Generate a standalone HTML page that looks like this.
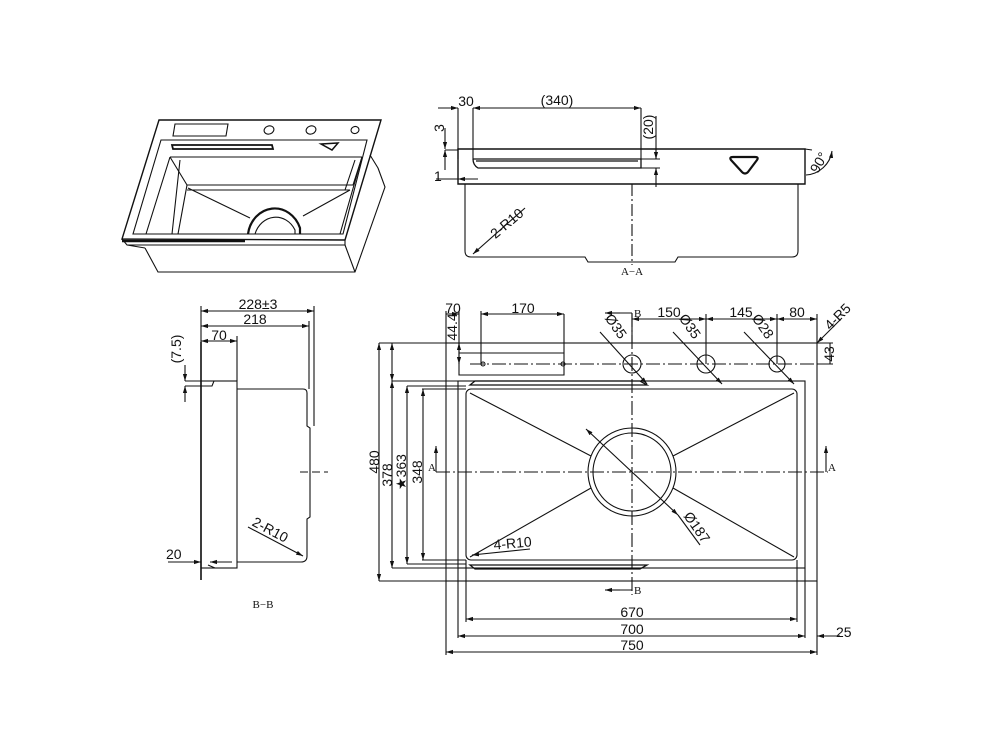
<!DOCTYPE html>
<html><head><meta charset="utf-8"><style>
html,body{margin:0;padding:0;background:#fff;}
svg{display:block;}
text{font-family:"Liberation Sans",sans-serif;font-size:14px;fill:#111;}
.s{font-family:"Liberation Serif",serif;font-size:11px;}
</style></head><body>
<svg width="1000" height="750" viewBox="0 0 1000 750" xmlns="http://www.w3.org/2000/svg">
<defs>
<marker id="a" viewBox="0 0 10 10" refX="10" refY="5" markerWidth="7" markerHeight="7" orient="auto-start-reverse" markerUnits="userSpaceOnUse"><path d="M0,2 L10,5 L0,8 z" fill="#111"/></marker>
</defs>
<g fill="none" stroke="#111" stroke-width="1.1">

<!-- ISOMETRIC -->
<path d="M159,120 L381,120 L345,240 L122,239 Z" stroke-width="1.4"/>
<path d="M161,140 L367,140 L343,234 L133,234 Z"/>
<path d="M122,239 L127,245 L345,245 L345,240"/>
<path d="M170,157 L362,157"/>
<path d="M170,157 L187,185 L353,185 L362,157"/>
<path d="M187,190 L350,190"/>
<path d="M170,157 L146,234 M180,160 L172,234 M187,185 L178,234"/>
<path d="M362,157 L340,234 M355,160 L345,190"/>
<path d="M188,188 L250,218 M350,190 L303,216"/>
<path d="M248,234 A27,30 0 0 1 300,228 L300,234" stroke-width="2.2"/>
<path d="M255,234 A22,25 0 0 1 295,230 L295,234"/>
<path d="M122,241 L245,241" stroke-width="2.5"/>
<path d="M145,248 L158,272 L355,272 L385,187 L378,168 M370,155 L378,168 M345,245 L355,272 M127,245 L145,248"/>
<path d="M175,124 L228,124 L226,136 L173,136 Z"/>
<path d="M172,145 L272,145 L273,149 L173,149 Z" stroke-width="1.8"/>
<ellipse cx="269" cy="130" rx="5" ry="4" transform="rotate(-20 269 130)"/>
<ellipse cx="311" cy="130" rx="5" ry="4" transform="rotate(-20 311 130)"/>
<ellipse cx="355" cy="130" rx="4" ry="3.5" transform="rotate(-20 355 130)"/>
<path d="M321,144 L338,143 L332,150 Z" stroke-width="1.5"/>

<!-- A-A SECTION -->
<path d="M458,149 L805,149 L805,184 L458,184 Z" stroke-width="1.4"/>
<path d="M445,150 L458,150 M805,149 L812,150"/>
<path d="M465,184 L465,251 Q465,257 471,257 L585,257 L588,262 L675,262 L678,257 L792,257 Q798,257 798,251 L798,184"/>
<path d="M473,159 L641,159 L641,168 L478,168 Q473,165 473,159 M476,161 L638,161" stroke-width="1.3"/>
<path d="M731,160 Q729,157 733,157 L755,157 Q759,157 757,160 L748,172 Q745,175 742,172 Z" stroke-width="2.2" stroke-linejoin="round"/>
<path d="M632,184 L632,265" stroke-dasharray="12,3,2,3"/>
<path d="M458,108 L458,159 M473,108 L473,159 M641,108 L641,159"/>
<path d="M438,108 L458,108" marker-end="url(#a)"/>
<path d="M473,108 L641,108" marker-start="url(#a)" marker-end="url(#a)"/>
<path d="M641,159 L660,159 M641,168 L660,168 M656,116 L656,159"/>
<path d="M656,148 L656,159" marker-end="url(#a)"/>
<path d="M656,187 L656,168" marker-end="url(#a)"/>
<path d="M445,128 L445,149" marker-end="url(#a)"/>
<path d="M445,170 L445,150" marker-end="url(#a)"/>
<path d="M436,179 L458,179"/>
<path d="M478,179 L458,179" marker-end="url(#a)"/>
<path d="M525,208 L473,254" marker-end="url(#a)"/>
<path d="M806,175 A28,28 0 0 0 832,151" marker-end="url(#a)"/>

<!-- PLAN VIEW -->
<rect x="446" y="343" width="371" height="238"/>
<rect x="458" y="381" width="347" height="187"/>
<rect x="466" y="389" width="331" height="171" rx="5"/>
<path d="M407,386 L466,386 M407,564 L466,564 M422,389 L466,389 M422,560 L466,560 M379,343 L446,343 M379,581 L446,581 M392,381 L458,381 M392,568 L458,568"/>
<circle cx="632" cy="472" r="44"/>
<circle cx="632" cy="472" r="39"/>
<path d="M470,393 L591,456 M794,393 L673,456 M470,557 L591,488 M794,557 L673,488"/>
<path d="M436,472 L828,472" stroke-dasharray="14,3,2,3"/>
<path d="M632,313 L632,595" stroke-dasharray="14,3,2,3"/>
<path d="M470,364 L830,364" stroke-dasharray="14,3,2,3"/>
<circle cx="632" cy="364" r="9"/>
<circle cx="706" cy="364" r="9"/>
<circle cx="777" cy="364" r="8"/>
<path d="M459,343 L459,375 L564,375 L564,314 M459,353 L564,353"/>
<circle cx="483" cy="364" r="2"/><circle cx="563" cy="364" r="2"/>
<path d="M475,381 L640,381 L647,385 L470,385 Z" stroke-width="1.3"/>
<path d="M475,569 L640,569 L647,565 L470,565 Z" stroke-width="1.3"/>
<path d="M632,313 L605,313 M632,590 L605,590"/>
<path d="M620,313 L605,313" marker-end="url(#a)"/>
<path d="M620,590 L605,590" marker-end="url(#a)"/>
<path d="M436,472 L436,446" marker-end="url(#a)"/>
<path d="M826,472 L826,446" marker-end="url(#a)"/>
<path d="M446,311 L446,343 M459,311 L459,343 M481,311 L481,364 M632,314 L632,343 M706,314 L706,364 M777,314 L777,364 M817,314 L817,343"/>
<path d="M446,314 L459,314" marker-end="url(#a)"/>
<path d="M481,314 L564,314" marker-start="url(#a)" marker-end="url(#a)"/>
<path d="M632,319 L706,319" marker-start="url(#a)" marker-end="url(#a)"/>
<path d="M706,319 L777,319" marker-start="url(#a)" marker-end="url(#a)"/>
<path d="M777,319 L817,319" marker-start="url(#a)" marker-end="url(#a)"/>
<path d="M459,343 L459,364" marker-start="url(#a)" marker-end="url(#a)"/>
<path d="M600,332 L647,384" marker-end="url(#a)"/>
<path d="M673,332 L722,384" marker-end="url(#a)"/>
<path d="M744,332 L794,384" marker-end="url(#a)"/>
<path d="M842,318 L817,343" marker-end="url(#a)"/>
<path d="M817,364 L833,364 M817,343 L833,343 M830,343 L830,364"/>
<path d="M379,343 L379,581" marker-start="url(#a)" marker-end="url(#a)"/>
<path d="M392,343 L392,381" marker-start="url(#a)" marker-end="url(#a)"/>
<path d="M392,381 L392,568" marker-start="url(#a)" marker-end="url(#a)"/>
<path d="M407,386 L407,564" marker-start="url(#a)" marker-end="url(#a)"/>
<path d="M423,389 L423,560" marker-start="url(#a)" marker-end="url(#a)"/>
<path d="M586,429 L678,515" marker-start="url(#a)" marker-end="url(#a)"/>
<path d="M678,515 L700,545"/>
<path d="M530,549 L472,555" marker-end="url(#a)"/>
<path d="M466,560 L466,622 M797,560 L797,622 M458,568 L458,638 M805,568 L805,638 M446,581 L446,655 M817,581 L817,655"/>
<path d="M466,619 L797,619" marker-start="url(#a)" marker-end="url(#a)"/>
<path d="M458,636 L805,636" marker-start="url(#a)" marker-end="url(#a)"/>
<path d="M446,652 L817,652" marker-start="url(#a)" marker-end="url(#a)"/>
<path d="M840,636 L817,636" marker-end="url(#a)"/>

<!-- B-B -->
<path d="M201,342 L201,580" stroke-width="1.6"/>
<rect x="201" y="381" width="36" height="187"/>
<path d="M237,389 L303,389 Q307,389 307,393 L307,426 L310,428 L310,517 L307,519 L307,556 Q307,562 301,562 L237,562"/>
<path d="M185,381 L214,381 L212,386 L185,386 M208,565 L215,568"/>
<path d="M300,472 L328,472" stroke-dasharray="8,4"/>
<path d="M201,306 L201,342 M314,306 L314,426 M309,321 L309,389 M237,336 L237,381"/>
<path d="M201,311 L314,311" marker-start="url(#a)" marker-end="url(#a)"/>
<path d="M201,326 L309,326" marker-start="url(#a)" marker-end="url(#a)"/>
<path d="M201,341 L237,341" marker-start="url(#a)" marker-end="url(#a)"/>
<path d="M185,365 L185,381" marker-end="url(#a)"/>
<path d="M185,402 L185,386" marker-end="url(#a)"/>
<path d="M168,562 L201,562" marker-end="url(#a)"/>
<path d="M232,562 L210,562" marker-end="url(#a)"/>
<path d="M248,527 L303,556" marker-end="url(#a)"/>
</g>

<g>
<text x="466" y="106" text-anchor="middle">30</text>
<text x="557" y="105" text-anchor="middle">(340)</text>
<text transform="translate(653,127) rotate(-90)" text-anchor="middle">(20)</text>
<text transform="translate(444,128) rotate(-90)" text-anchor="middle">3</text>
<text x="434" y="181">1</text>
<text transform="translate(510,227) rotate(-40)" text-anchor="middle">2-R10</text>
<text transform="translate(823,165) rotate(-60)" text-anchor="middle">90°</text>
<text class="s" x="632" y="275" text-anchor="middle">A−A</text>

<text x="453" y="313" text-anchor="middle">70</text>
<text x="523" y="313" text-anchor="middle">170</text>
<text x="669" y="317" text-anchor="middle">150</text>
<text x="741" y="317" text-anchor="middle">145</text>
<text x="797" y="317" text-anchor="middle">80</text>
<text transform="translate(841,320) rotate(-45)" text-anchor="middle">4-R5</text>
<text transform="translate(834,354) rotate(-90)" text-anchor="middle">43</text>
<text transform="translate(457,327) rotate(-90)" text-anchor="middle">44.4</text>
<text transform="translate(612,329) rotate(55)" text-anchor="middle">Ø35</text>
<text transform="translate(686,329) rotate(55)" text-anchor="middle">Ø35</text>
<text transform="translate(759,329) rotate(55)" text-anchor="middle">Ø28</text>
<text class="s" x="634" y="317">B</text>
<text class="s" x="634" y="594">B</text>
<text class="s" x="428" y="471">A</text>
<text class="s" x="828" y="471">A</text>
<text transform="translate(379,462) rotate(-90)" text-anchor="middle">480</text>
<text transform="translate(392,475) rotate(-90)" text-anchor="middle">378</text>
<text transform="translate(406,472) rotate(-90)" text-anchor="middle">★363</text>
<text transform="translate(422,472) rotate(-90)" text-anchor="middle">348</text>
<text transform="translate(693,530) rotate(55)" text-anchor="middle">Ø187</text>
<text transform="translate(513,548) rotate(-5)" text-anchor="middle">4-R10</text>
<text x="632" y="617" text-anchor="middle">670</text>
<text x="632" y="634" text-anchor="middle">700</text>
<text x="632" y="650" text-anchor="middle">750</text>
<text x="836" y="637">25</text>

<text x="258" y="309" text-anchor="middle">228±3</text>
<text x="255" y="324" text-anchor="middle">218</text>
<text x="219" y="340" text-anchor="middle">70</text>
<text transform="translate(181,349) rotate(-90)" text-anchor="middle">(7.5)</text>
<text x="166" y="559">20</text>
<text transform="translate(268,534) rotate(28)" text-anchor="middle">2-R10</text>
<text class="s" x="263" y="608" text-anchor="middle">B−B</text>
</g>
</svg>
</body></html>
